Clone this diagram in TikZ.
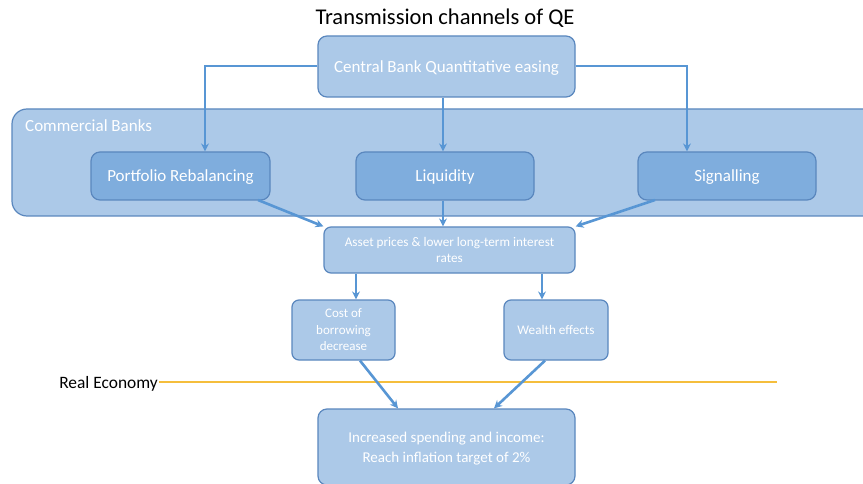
\documentclass[tikz,border=0pt]{standalone}
\usepackage{fontspec}
\setmainfont{Carlito}
\usetikzlibrary{arrows.meta}
\definecolor{boxfill}{RGB}{172,201,232}
\definecolor{boxdark}{RGB}{127,173,221}
\definecolor{boxline}{RGB}{90,135,190}
\definecolor{arrowc}{RGB}{88,150,212}
\definecolor{econ}{RGB}{245,190,60}
\begin{document}
\begin{tikzpicture}[x=1pt,y=-1pt,
  lightbox/.style={draw=boxline,fill=boxfill,line width=1.2pt,rounded corners=9pt,
    text=white,font=\fontsize{17}{19}\selectfont,align=center,inner sep=0pt,text depth=0pt},
  darkbox/.style={lightbox,fill=boxdark},
  flow/.style={draw=arrowc,line width=2.6pt,-{Stealth[length=8pt,width=8pt]}}]
\useasboundingbox (0,0) rectangle (863,484);
\fill[white] (0,0) rectangle (863,484);

% title
\node (title) at (445,18) {\fontsize{22.5}{24}\selectfont Transmission channels of QE};

% commercial bank container
\draw[draw=boxline,fill=boxfill,line width=1.2pt,rounded corners=15pt]
  (12,109) rectangle (880,216);
\node[anchor=west,text=white,font=\fontsize{17}{19}\selectfont,inner sep=0pt] (cbanks) at (25,126) {Commercial Banks};

% boxes
\node[lightbox,minimum width=257pt,minimum height=61pt] (qe) at (446.5,66.5) {Central Bank Quantitative easing};
\node[darkbox,minimum width=179pt,minimum height=48pt] (pr) at (180.5,176) {Portfolio Rebalancing};
\node[darkbox,minimum width=178pt,minimum height=48pt] (liq) at (445,176) {Liquidity};
\node[darkbox,minimum width=178pt,minimum height=48pt] (sig) at (727,176) {Signalling};
\node[lightbox,minimum width=251pt,minimum height=46pt,font=\fontsize{13.2}{16}\selectfont,rounded corners=7pt] (asset) at (449.5,250)
  {Asset prices \& lower long-term interest\\rates};
\node[lightbox,minimum width=103pt,minimum height=60pt,font=\fontsize{13}{16.5}\selectfont,rounded corners=7pt] (cost) at (343.5,330)
  {Cost of\\borrowing\\decrease};
\node[lightbox,minimum width=104pt,minimum height=60pt,font=\fontsize{13.2}{16}\selectfont,rounded corners=7pt] (wealth) at (556,330) {Wealth effects};
\node[lightbox,minimum width=257pt,minimum height=76pt,font=\fontsize{15}{20}\selectfont] (final) at (446.5,447)
  {Increased spending and income:\\Reach inflation target of 2\%};

% real economy divide
\node[anchor=east,font=\fontsize{17.4}{19}\selectfont,inner sep=1pt,text depth=0pt] (re) at (159,382) {Real Economy};
\coordinate (reend) at (777,382);
\draw[econ,line width=2pt] (re.east) -- (reend);

% connectors
\draw[flow] (qe.west |- 0,66) -| (pr.north -| 205,0);
\draw[flow] (qe.south -| 443,0) -- (liq.north -| 443,0);
\draw[flow] (qe.east |- 0,66) -| (sig.north -| 687,0);
\draw[flow] (258,200) -- (asset.north west);
\draw[flow] (liq.south -| 443,0) -- (asset.north -| 443,0);
\draw[flow] (655,200) -- (asset.north east);
\draw[flow] (asset.south -| 356,0) -- (cost.north -| 356,0);
\draw[flow] (asset.south -| 542,0) -- (wealth.north -| 542,0);
\draw[flow] (cost.south -| 360,0) -- (final.north -| 398,0);
\draw[flow] (wealth.south -| 545,0) -- (final.north -| 494,0);
\end{tikzpicture}
\end{document}
